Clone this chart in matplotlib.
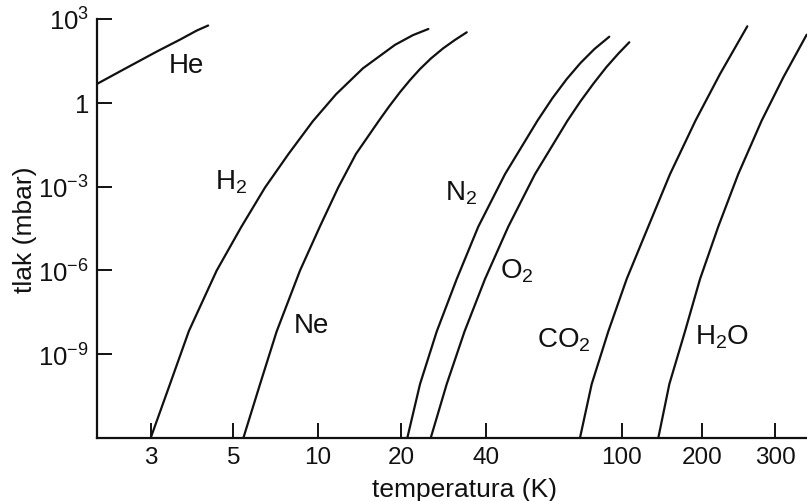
import numpy as np
import matplotlib
matplotlib.use("Agg")
import matplotlib.pyplot as plt

plt.rcParams['font.family'] = ['Liberation Sans', 'DejaVu Sans']
plt.rcParams['mathtext.fontset'] = 'custom'
plt.rcParams['mathtext.rm'] = 'Liberation Sans'
plt.rcParams['mathtext.it'] = 'Liberation Sans:italic'
plt.rcParams['mathtext.bf'] = 'Liberation Sans:bold'

# ---------------- data (temperature K, pressure mbar) ----------------
he_T = [2.15, 2.53, 3.11, 3.60, 3.99, 4.28]
he_p = [4.7, 15.3, 67.5, 184, 387, 585]

h2_T = [3.00, 3.38, 3.80, 4.51, 5.33, 6.49, 7.87, 9.62, 11.65, 14.58, 19.03, 22.05, 25.0]
h2_p = [1e-12, 8.5e-11, 6.8e-9, 9.8e-7, 3.5e-5, 9.3e-4, 0.0147, 0.22, 2.01, 17.2, 119, 265, 439]

ne_T = [5.43, 6.23, 7.14, 8.65, 10.19, 11.87, 13.75, 16.65, 18.1, 19.83, 21.52, 23.35,
        25.54, 28.18, 31.07, 34.18]
ne_p = [1e-12, 8.5e-11, 6.5e-9, 9.8e-7, 3.7e-5, 9.3e-4, 0.0147, 0.23, 0.73, 2.4, 6.5, 16.2,
        38.8, 88.6, 179, 334]

n2_T = [21.05, 23.35, 26.76, 31.5, 37.57, 45.48, 56.63, 62.68, 68.97, 75.7, 83.2, 91.96]
n2_p = [1e-12, 8.5e-11, 6.5e-9, 4.9e-7, 3.7e-5, 2.8e-3, 0.23, 1.48, 7.05, 26.6, 84.3, 232]

o2_T = [25.48, 29.03, 33.57, 39.67, 46.5, 55.69, 69.35, 75.7, 82.67, 90.2, 97.9, 106.8]
o2_p = [1e-12, 8.5e-11, 6.5e-9, 4.9e-7, 3.7e-5, 2.8e-3, 0.23, 1.13, 4.9, 19.0, 58.7, 147]

co2_T = [75.44, 81.66, 91.34, 104.4, 125.9, 152.0, 189.5, 221.3, 257.4]
co2_p = [1e-12, 8.5e-11, 6.5e-9, 4.9e-7, 3.7e-5, 2.8e-3, 0.23, 10.7, 548]

h2o_T = [137.3, 151.1, 173.0, 197.1, 219.2, 244.8, 278.7, 314.1, 357.5]
h2o_p = [1e-12, 8.5e-11, 6.5e-9, 4.9e-7, 3.7e-5, 2.8e-3, 0.23, 8.1, 274]

x_ticks = [3, 5, 10, 20, 40, 100, 200, 300]
x_ticklabels = ['3', '5', '10', '20', '40', '100', '200', '300']
y_ticks = [1e3, 1, 1e-3, 1e-6, 1e-9]
y_ticklabels = [r'$10^{3}$', r'$1$', r'$10^{-3}$', r'$10^{-6}$', r'$10^{-9}$']

curve_names = [r'He', r'H$_2$', r'Ne', r'N$_2$', r'O$_2$', r'CO$_2$', r'H$_2$O']

# ---------------- hand-drawn (non-uniform log) temperature axis ----------------
scale_pos = np.array([0.0756, 0.1920, 0.3107, 0.4282, 0.5479, 0.7390, 0.8517, 0.9549])
scale_log = np.log10(np.array(x_ticks, dtype=float))
s_lo = (scale_pos[1] - scale_pos[0]) / (scale_log[1] - scale_log[0])
s_hi = (scale_pos[-1] - scale_pos[-2]) / (scale_log[-1] - scale_log[-2])


def fwd(t):
    t = np.asarray(t, dtype=float)
    l = np.log10(np.clip(t, 1e-9, None))
    u = np.interp(l, scale_log, scale_pos)
    u = np.where(l < scale_log[0], scale_pos[0] + (l - scale_log[0]) * s_lo, u)
    u = np.where(l > scale_log[-1], scale_pos[-1] + (l - scale_log[-1]) * s_hi, u)
    return u


def inv(u):
    u = np.asarray(u, dtype=float)
    l = np.interp(u, scale_pos, scale_log)
    l = np.where(u < scale_pos[0], scale_log[0] + (u - scale_pos[0]) / s_lo, l)
    l = np.where(u > scale_pos[-1], scale_log[-1] + (u - scale_pos[-1]) / s_hi, l)
    return 10.0 ** l


fig = plt.figure(figsize=(8.07, 5.02), dpi=100)
ax = fig.add_axes([97 / 807, 63 / 502, 710 / 807, 419 / 502])
ax.set_xscale('function', functions=(fwd, inv))
ax.set_yscale('log')

lc = '#111111'
for T, p in [(he_T, he_p), (h2_T, h2_p), (ne_T, ne_p), (n2_T, n2_p),
             (o2_T, o2_p), (co2_T, co2_p), (h2o_T, h2o_p)]:
    ax.plot(T, p, color=lc, lw=1.6, solid_joinstyle='round', solid_capstyle='round')

ax.set_xlim(float(inv(0.0)), float(inv(1.0)))
ax.set_ylim(1e-12, 1e3)

ax.set_xticks(x_ticks)
ax.set_xticklabels(x_ticklabels)
ax.set_yticks(y_ticks)
ax.set_yticklabels(y_ticklabels)
ax.xaxis.set_minor_locator(matplotlib.ticker.NullLocator())
ax.yaxis.set_minor_locator(matplotlib.ticker.NullLocator())

ax.tick_params(axis='both', direction='in', length=11, width=1.4, colors=lc)
ax.tick_params(axis='x', pad=6, labelsize=17.5)
ax.tick_params(axis='y', pad=6, labelsize=18.5)
for s in ['top', 'right']:
    ax.spines[s].set_visible(False)
for s in ['left', 'bottom']:
    ax.spines[s].set_linewidth(1.6)
    ax.spines[s].set_color(lc)

ax.set_xlabel('temperatura (K)', fontsize=19, color=lc)
ax.xaxis.set_label_coords(0.518, -0.093)
ax.xaxis.label.set_va('top')
ax.set_ylabel('tlak (mbar)', fontsize=19, color=lc)
ax.yaxis.set_label_coords(-0.084, 0.5)

label_pos = [(0.1004, 0.8728), (0.1662, 0.5943), (0.2765, 0.2530), (0.4901, 0.5704),
             (0.5676, 0.3819), (0.6197, 0.2172), (0.8423, 0.2267)]
for name, (u, v) in zip(curve_names, label_pos):
    ax.text(u, v, name, transform=ax.transAxes, fontsize=20, ha='left', va='baseline', color=lc)

fig.savefig('out.png', dpi=100)
